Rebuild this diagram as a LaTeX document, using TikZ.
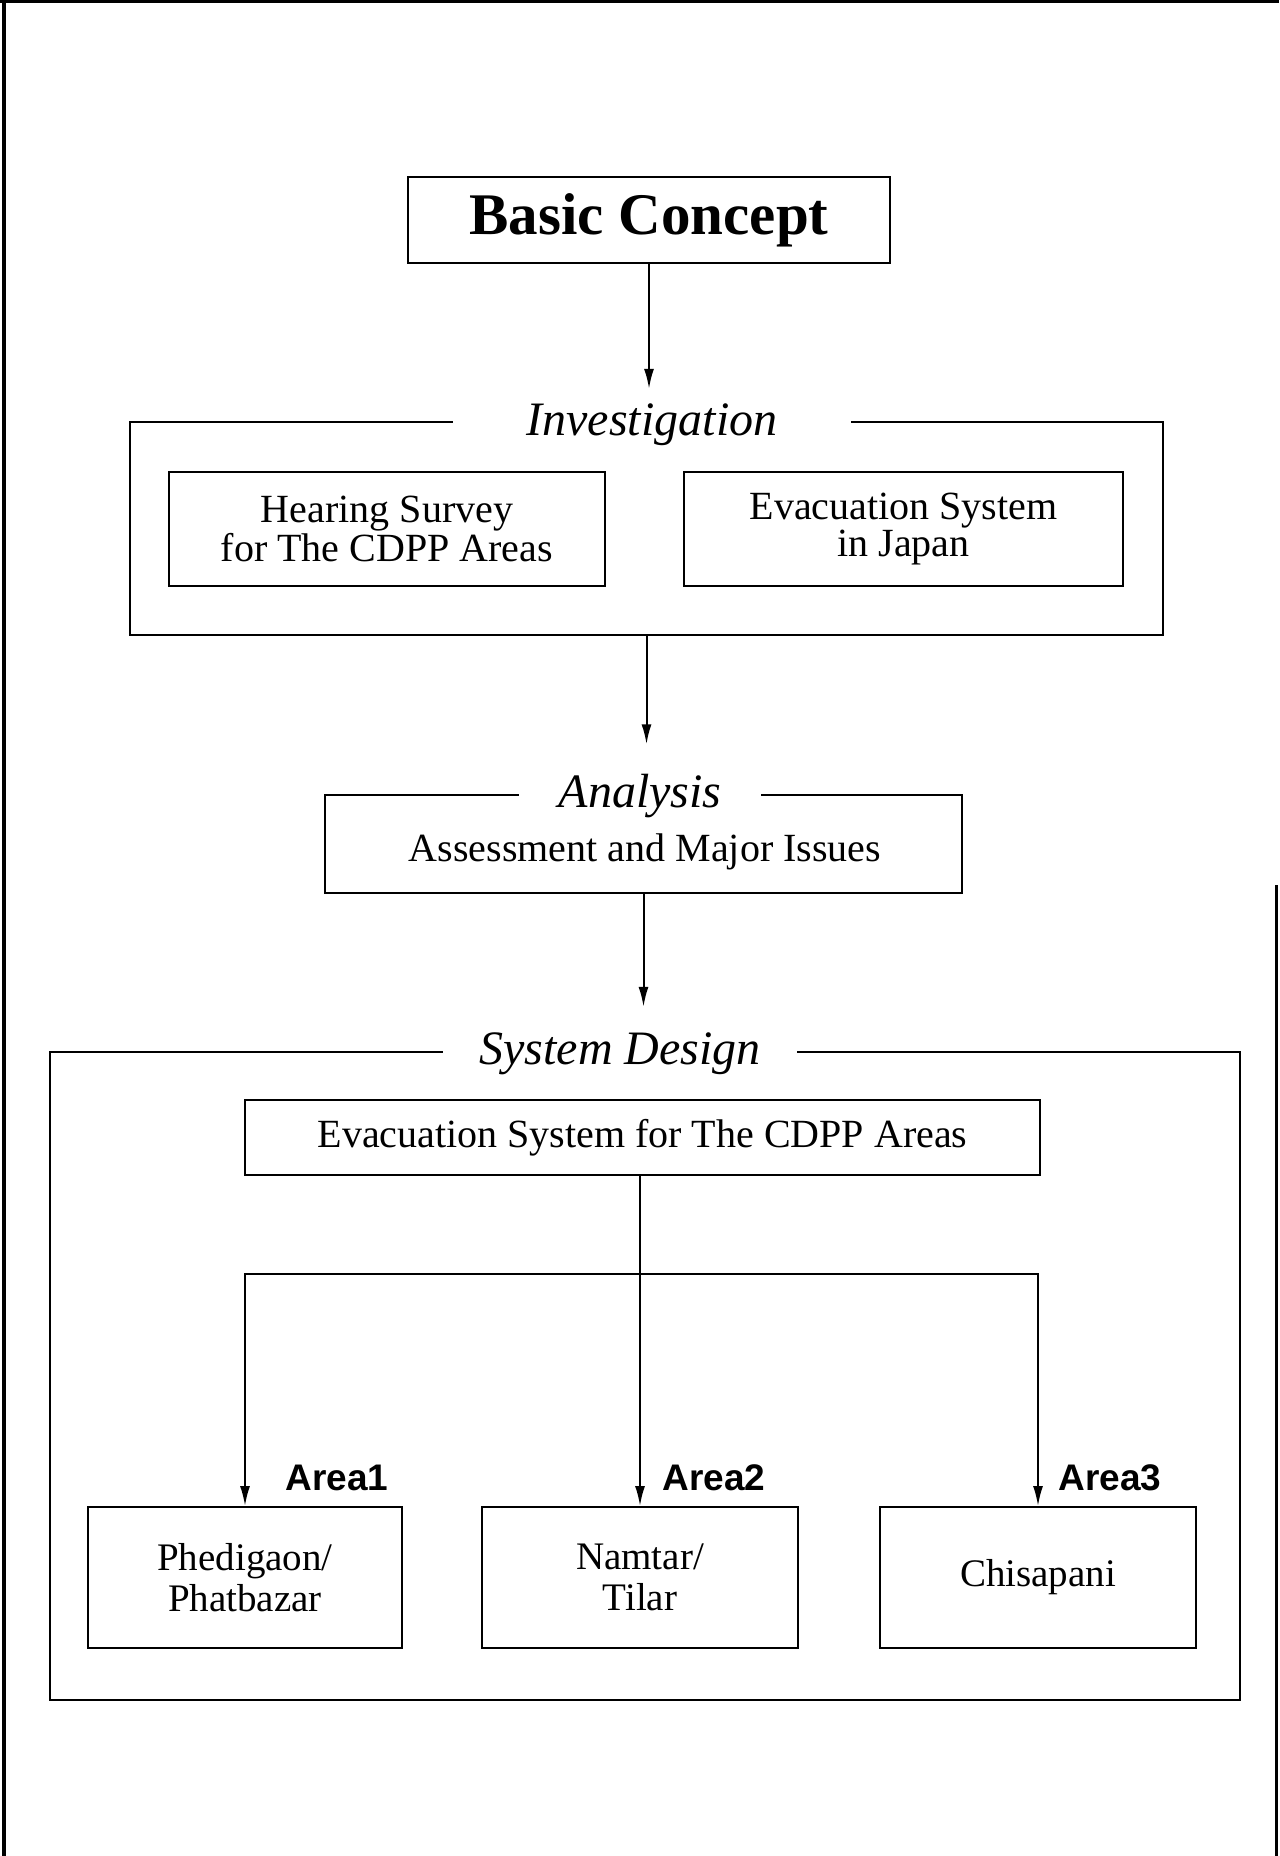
\documentclass[tikz,border=0pt]{standalone}
\usepackage{fontspec}
\setmainfont{Liberation Serif}
\newfontfamily\labfont{Liberation Sans}
\usetikzlibrary{arrows.meta}
\begin{document}
\begin{tikzpicture}[x=0.5pt,y=-0.5pt,
  box/.style={draw,line width=1pt,inner sep=0pt,align=center,font=\fontsize{20}{17}\selectfont},
  frame/.style={draw,line width=0.8pt,inner sep=0pt},
  ttl/.style={fill=white,inner ysep=1pt,anchor=base,font=\fontsize{24}{28}\selectfont\itshape},
  arr/.style={line width=1pt,-{Latex[length=10pt,width=5pt]}},
  arealab/.style={anchor=base west,inner sep=0pt,font=\fontsize{18.5}{20}\selectfont\labfont\bfseries}]
\useasboundingbox (0,0) rectangle (1279,1856);
% outer page frame
\draw[line width=1.5pt] (0,2) -- (1279,2);
\draw[line width=2pt] (4,0) -- (4,1856);
\draw[line width=1.5pt] (1276,885) -- (1276,1856);

\node[box,minimum width=241pt,minimum height=43pt,font=\fontsize{29.5}{32}\selectfont\bfseries] (basic) at (649,220) {Basic Concept};

\node[frame,minimum width=516.5pt,minimum height=106.5pt] (inv) at (646.5,528.5) {};
\node[ttl,inner xsep=37pt] (invt) at (652,435) {Investigation};
\node[box,minimum width=218pt,minimum height=57pt] (hear) at (387,529) {Hearing Survey\\for The CDPP Areas};
\node[box,minimum width=219.5pt,minimum height=57pt] (japan) at (903.5,529) {Evacuation System\\in Japan};

\node[frame,minimum width=318.5pt,minimum height=49pt] (ana) at (643.5,844) {};
\node[ttl,inner xsep=20pt] (anat) at (640,807) {Analysis};
\node[anchor=base,inner sep=0pt,font=\fontsize{20}{24}\selectfont] (assess) at (645,861) {Assessment and Major Issues};

\node[frame,minimum width=595pt,minimum height=324pt] (sys) at (645,1376) {};
\node[ttl,inner xsep=18pt] (syst) at (620,1064) {System Design};
\node[box,minimum width=397.5pt,minimum height=37.5pt] (evac) at (642.5,1137.5) {Evacuation System for The CDPP Areas};

\node[box,minimum width=157pt,minimum height=70.5pt,font=\fontsize{19.5}{20.5}\selectfont] (a1) at (245,1577.5) {Phedigaon/\\Phatbazar};
\node[box,minimum width=158pt,minimum height=70.5pt,font=\fontsize{19.5}{20.5}\selectfont] (a2) at (640,1577.5) {Namtar/\\Tilar};
\node[box,minimum width=158pt,minimum height=70.5pt,font=\fontsize{19.5}{20.5}\selectfont] (a3) at (1038,1577.5) {Chisapani};

\node[arealab] (l1) at (285,1490) {Area1};
\node[arealab] (l2) at (662,1490) {Area2};
\node[arealab] (l3) at (1058,1490) {Area3};

\coordinate (split) at (640,1274);

\draw[arr,shorten >=6pt] (basic.south) -- (basic.south |- invt.north);
\draw[arr,shorten >=13.5pt] (inv.south) -- (inv.south |- anat.north);
\draw[arr,shorten >=11.5pt] (ana.south) -- (ana.south |- syst.north);
\draw[arr] (evac.south -| a2.north) -- (a2.north);
\draw[arr] (split) -| (a1.north);
\draw[arr] (split) -| (a3.north);
\end{tikzpicture}
\end{document}
